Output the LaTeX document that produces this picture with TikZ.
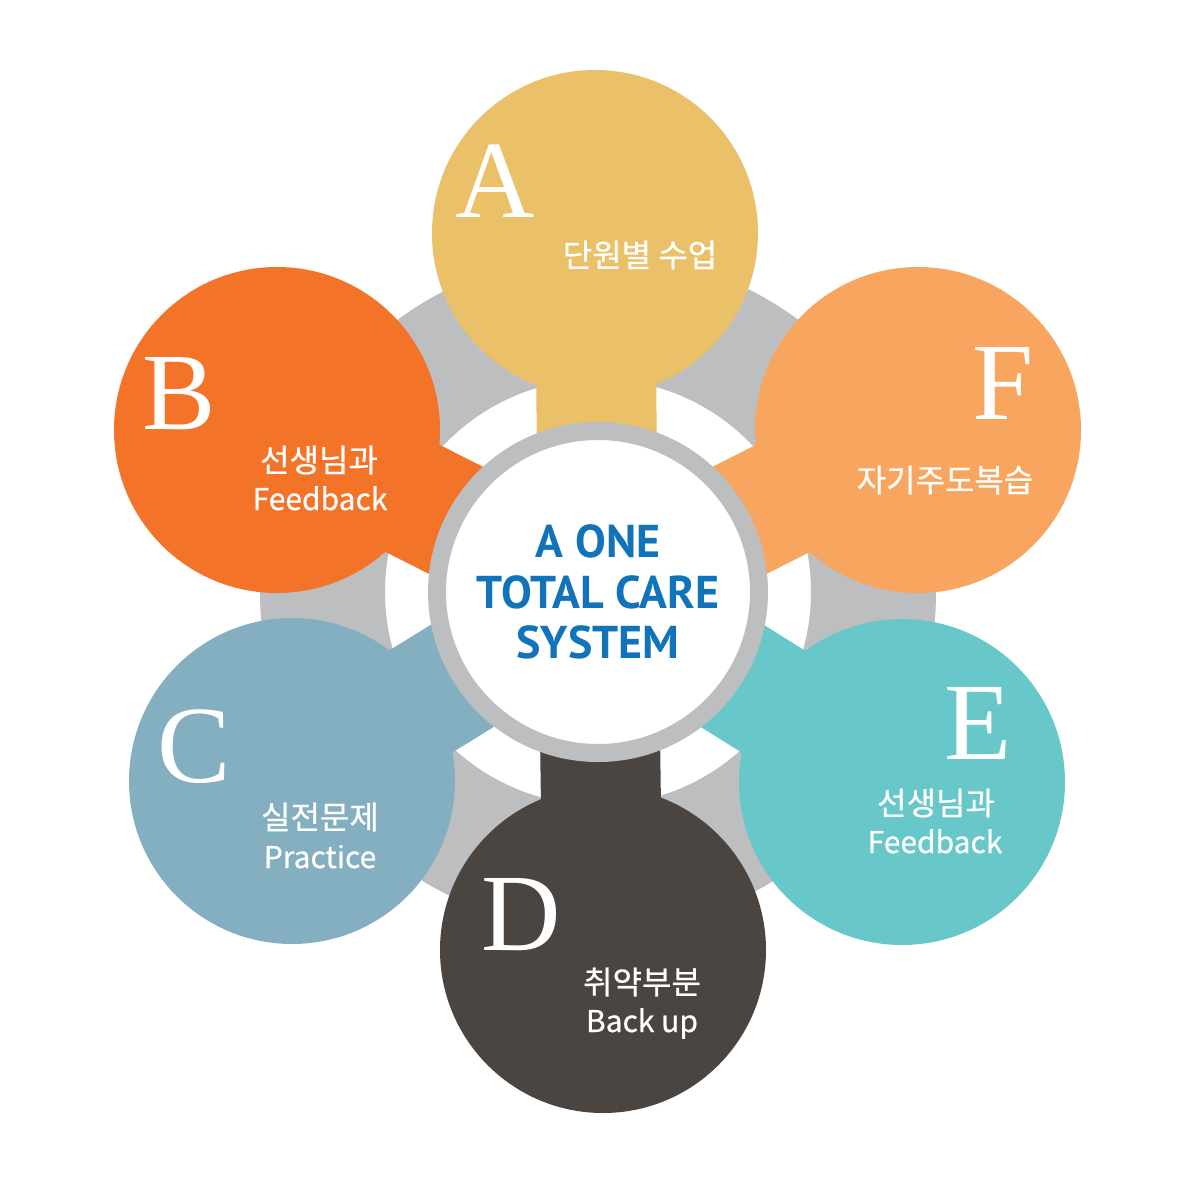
\documentclass[tikz,border=0pt]{standalone}
\usepackage{fontspec}
\setmainfont{Liberation Serif}
\newfontfamily\krfont[FakeBold=0.6]{Noto Sans CJK KR}
\newfontfamily\titlefont{PT Sans}

\definecolor{unitA}{HTML}{EAC068}
\definecolor{unitB}{HTML}{F37429}
\definecolor{unitC}{HTML}{84AFC0}
\definecolor{unitD}{HTML}{4B4541}
\definecolor{unitE}{HTML}{68C8C9}
\definecolor{unitF}{HTML}{F8A560}
\definecolor{ringgray}{HTML}{BDBEC0}
\definecolor{titleblue}{HTML}{1174BB}

\tikzset{
  petal/.style={circle, minimum size=326pt, inner sep=0pt},
  link/.style={line width=120pt},
  hub/.style={circle, minimum size=322pt, inner sep=0pt, draw=ringgray, line width=18pt, fill=white,
    align=center, text=titleblue, font=\titlefont\bfseries\fontsize{46}{50.5}\selectfont},
  letter/.style={text=white, anchor=base, inner sep=0pt, font=\fontsize{110}{110}\selectfont},
  kor/.style={text=white, inner sep=0pt, font=\krfont\fontsize{32}{32}\selectfont},
  eng/.style={text=white, anchor=base, inner sep=0pt, font=\krfont\fontsize{30}{30}\selectfont},
}

\begin{document}
\begin{tikzpicture}[x=1pt, y=-1pt]
\useasboundingbox (0,0) rectangle (1200,1200);

\coordinate (o)  at (598,592); %centre
\coordinate (ca) at (595,233); %A
\coordinate (cb) at (277,430); %B
\coordinate (cc) at (292,781); %C
\coordinate (cd) at (603,950); %D
\coordinate (ce) at (902,782); %E
\coordinate (cf) at (918,430); %F

% grey ring behind everything
\fill[ringgray, even odd rule] (o) circle (338pt) (o) circle (213pt);

% bands to the centre
\draw[link, unitA] (o) -- (ca);
\draw[link, unitB] (o) -- (cb);
\draw[link, unitC] (o) -- (cc);
\draw[link, unitD] (o) -- (cd);
\draw[link, unitE] (o) -- (ce);
\draw[link, unitF] (o) -- (cf);

\node[petal, fill=unitA] (A) at (ca) {};
\node[petal, fill=unitB] (B) at (cb) {};
\node[petal, fill=unitC] (C) at (cc) {};
\node[petal, fill=unitD] (D) at (cd) {};
\node[petal, fill=unitE] (E) at (ce) {};
\node[petal, fill=unitF] (F) at (cf) {};

\node[hub] (hub) at (o) {A ONE\\TOTAL CARE\\SYSTEM};

\node[letter] (la) at (495,217) {A};
\node[letter] (lb) at (179,429) {B};
\node[letter] (lc) at (194,782) {C};
\node[letter] (ld) at (521,950) {D};
\node[letter] (le) at (978,759) {E};
\node[letter] (lf) at (1003,419) {F};

\node[kor] (ta)  at (640,255) {단원별 수업};
\node[kor] (tb)  at (319,460) {선생님과};
\node[eng] (tb2) at (320,510) {Feedback};
\node[kor] (tc)  at (320,817) {실전문제};
\node[eng] (tc2) at (320,868) {Practice};
\node[kor] (td)  at (642,982) {취약부분};
\node[eng] (td2) at (642,1032) {Back up};
\node[kor] (te)  at (936,803) {선생님과};
\node[eng] (te2) at (935,853) {Feedback};
\node[kor] (tf)  at (945,480) {자기주도복습};

\end{tikzpicture}
\end{document}
